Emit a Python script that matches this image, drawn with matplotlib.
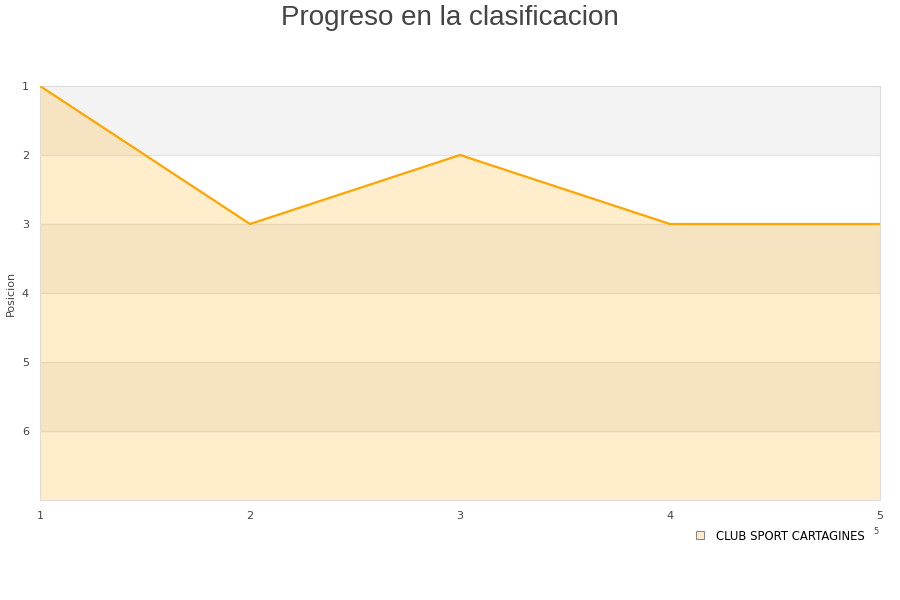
import matplotlib
matplotlib.use("Agg")
import matplotlib.pyplot as plt
from matplotlib.lines import Line2D

jornadas = [1, 2, 3, 4, 5]
posiciones = [1, 3, 2, 3, 3]
equipo = "CLUB SPORT CARTAGINES"
max_pos = 7

fig = plt.figure(figsize=(9, 6), dpi=100)
ax = fig.add_axes([40 / 900, 100 / 600, 840 / 900, 414 / 600])

# alternating background bands
for i in range(1, max_pos):
    color = "#f3f3f3" if i % 2 == 1 else "white"
    ax.axhspan(i, i + 1, color=color, zorder=0, lw=0)
    if i > 1:
        ax.axhline(i, color="#e4e4e4", lw=1, zorder=1)

ax.fill_between(jornadas, posiciones, max_pos, color="#ffa500", alpha=0.2, lw=0, zorder=2)
ax.plot(jornadas, posiciones, color="#ffa500", lw=1.6, zorder=3)

ax.set_xlim(1, 5)
ax.set_ylim(max_pos, 1)
ax.set_xticks(jornadas)
ax.set_yticks(range(1, max_pos))
ax.tick_params(length=0, labelsize=8, colors="#444444")
ax.tick_params(axis="y", pad=8)
ax.tick_params(axis="x", pad=8)
for s in ax.spines.values():
    s.set_color("#dddddd")
ax.set_ylabel("Posicion", fontsize=8, color="#444444", labelpad=4)

fig.text(0.5, 1 - 18 / 600, "Progreso en la clasificacion", ha="center", va="center",
         fontsize=20, color="#444444", family="Liberation Sans")

handle = Line2D([], [], marker="s", ls="none", markersize=6,
                markerfacecolor="#ffedcc", markeredgecolor="#888888", markeredgewidth=0.8)
fig.legend([handle], [equipo], loc="center left", bbox_to_anchor=(684 / 900, 1 - 536 / 600),
           frameon=False, fontsize=8.4, handletextpad=0.3, borderaxespad=0)
fig.text(876 / 900, 1 - 532 / 600, "5", fontsize=6, color="#444444", ha="center", va="center")

fig.savefig("out.png")
